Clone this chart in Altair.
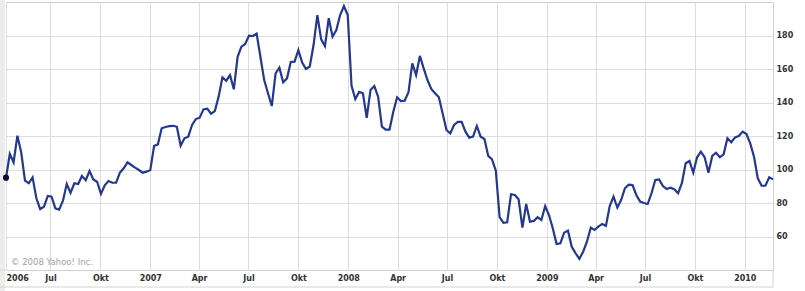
import altair as alt
import pandas as pd

# Weekly closing prices, first week starting 2006-04-10
start_date = "2006-04-10"

values_2006 = [95.1, 109.3, 104.3, 120.2, 110.3, 93.3, 91.8, 95.3, 82.8, 76.4,
               77.8, 84.2, 83.8, 76.8, 76.0, 81.4, 91.3, 86.1, 91.8, 91.3,
               96.1, 93.6, 99.1, 94.1, 92.7, 85.4, 90.6, 93.1, 92.1, 92.1,
               98.1, 100.7, 104.3, 102.7, 101.1, 99.7, 98.1, 98.7]
values_2007 = [99.7, 114.0, 115.0, 124.6, 125.4, 125.9, 126.1, 125.5, 114.2, 118.6,
               119.6, 126.6, 130.1, 130.9, 135.9, 136.3, 133.3, 134.9, 143.5, 155.0,
               153.0, 156.4, 147.9, 167.3, 173.3, 174.9, 179.9, 179.7, 181.1, 167.3,
               153.4, 145.5, 137.9, 157.4, 160.8, 152.1, 154.4, 164.2, 164.4, 171.3,
               163.9, 160.0, 161.5, 174.3, 192.2, 177.7, 173.7, 190.3, 179.3, 183.3,
               192.2, 197.6, 192.2]
values_2008 = [150.0, 142.0, 146.3, 145.5, 130.9, 147.5, 149.8, 143.5, 125.6, 123.8,
               123.8, 134.5, 143.1, 140.9, 141.1, 146.1, 163.4, 156.4, 167.8, 160.4,
               153.4, 148.1, 145.5, 143.1, 133.5, 123.6, 121.5, 126.6, 128.4, 128.4,
               122.6, 119.0, 119.6, 126.0, 119.6, 118.2, 108.1, 106.1, 99.3, 71.5,
               68.2, 68.5, 85.2, 84.8, 82.2, 65.3, 79.4, 68.8, 69.3, 71.5,
               69.9, 78.2]
values_2009 = [72.8, 64.9, 55.5, 55.9, 62.3, 63.5, 53.9, 50.0, 46.7, 50.9,
               56.9, 65.3, 63.9, 65.9, 67.5, 66.4, 78.2, 83.8, 77.3, 81.8,
               88.8, 90.9, 90.7, 84.8, 80.8, 80.0, 79.4, 85.8, 93.7, 94.1,
               90.1, 88.4, 89.1, 88.2, 85.8, 91.8, 103.7, 105.1, 98.1, 107.3,
               110.6, 107.3, 98.1, 108.1, 110.0, 107.3, 109.1, 118.6, 116.2, 119.2,
               120.0, 122.6]
values_2010 = [121.2, 115.6, 107.6, 94.7, 90.3, 90.3, 95.3, 94.1]

# Axis ticks: (year, month) of quarter gridlines
quarter_ticks = [(2006, 7), (2006, 10), (2007, 1), (2007, 4), (2007, 7), (2007, 10),
                 (2008, 1), (2008, 4), (2008, 7), (2008, 10), (2009, 1), (2009, 4),
                 (2009, 7), (2009, 10), (2010, 1)]
y_ticks = [60, 80, 100, 120, 140, 160, 180]
copyright_text = ["\u00a9 2008 Yahoo! Inc."]

values = values_2006 + values_2007 + values_2008 + values_2009 + values_2010
dates = pd.date_range(start_date, periods=len(values), freq="7D").strftime("%Y/%m/%d")
df = pd.DataFrame({"date": list(dates), "price": values})

sd = pd.Timestamp(start_date)
tick_values = [alt.DateTime(year=sd.year, month=sd.month, date=sd.day)] + [
    alt.DateTime(year=y, month=m, date=1) for (y, m) in quarter_ticks
]

label_expr = (
    "(year(datum.value) == 2006 && month(datum.value) < 4) || month(datum.value) == 0 "
    "? timeFormat(datum.value, '%Y') : month(datum.value) == 3 ? 'Apr' "
    ": month(datum.value) == 6 ? 'Jul' : 'Okt'"
)

FONT = "DejaVu Sans"
W, H = 767, 268

x_enc = alt.X(
    "date:T",
    scale=alt.Scale(nice=False),
    axis=alt.Axis(
        values=tick_values,
        labelExpr=label_expr,
        grid=True,
        ticks=False,
        domain=False,
        title=None,
        labelFlush=True,
        labelOverlap=False,
        labelPadding=4,
        labelFont=FONT,
        labelFontSize=8,
        labelFontWeight="bold",
        labelColor="#333333",
        gridColor="#dddddd",
    ),
)
y_enc = alt.Y(
    "price:Q",
    scale=alt.Scale(domain=[40, 200], nice=False, zero=False),
    axis=alt.Axis(
        orient="right",
        values=y_ticks,
        grid=True,
        ticks=False,
        domain=False,
        title=None,
        labelAlign="left",
        labelPadding=3,
        labelFont=FONT,
        labelFontSize=8,
        labelFontWeight="bold",
        labelColor="#333333",
        gridColor="#dddddd",
    ),
)

base = alt.Chart(df)

line = base.mark_line(color="#25388f", strokeWidth=2.2).encode(x=x_enc, y=y_enc)

first_point = alt.Chart(df.iloc[:1]).mark_circle(
    color="#0b0b3a", size=38, opacity=1
).encode(x="date:T", y="price:Q")

deco = pd.DataFrame({"a": [0]})
strip = alt.Chart(deco).mark_rect(color="#ececec").encode(
    x=alt.value(-6), x2=alt.value(-1), y=alt.value(-2), y2=alt.value(289)
)
bottom_rule = alt.Chart(deco).mark_rule(color="#d4d4d4", strokeWidth=1).encode(
    x=alt.value(-6), x2=alt.value(W), y=alt.value(285)
)
top_band_rule = alt.Chart(deco).mark_rule(color="#d4d4d4", strokeWidth=1).encode(
    x=alt.value(-6), x2=alt.value(0), y=alt.value(H)
)
right_band_rule = alt.Chart(deco).mark_rule(color="#d4d4d4", strokeWidth=1).encode(
    x=alt.value(W), y=alt.value(H), y2=alt.value(285)
)

copyright_mark = alt.Chart(pd.DataFrame({"t": copyright_text})).mark_text(
    align="left", baseline="middle", font=FONT, fontSize=8.5, color="#a0a0a0"
).encode(text="t:N", x=alt.value(5), y=alt.value(260))

chart = alt.layer(
    strip, line, first_point, bottom_rule, top_band_rule, right_band_rule, copyright_mark
).properties(
    width=W,
    height=H,
    autosize=alt.AutoSizeParams(type="none"),
    padding={"left": 6, "top": 2, "right": 32, "bottom": 21},
    background="white",
).configure_view(
    stroke="#d0d0d0", strokeWidth=1
)

chart.save("out.html", embed_options={"renderer": "svg", "actions": False})
